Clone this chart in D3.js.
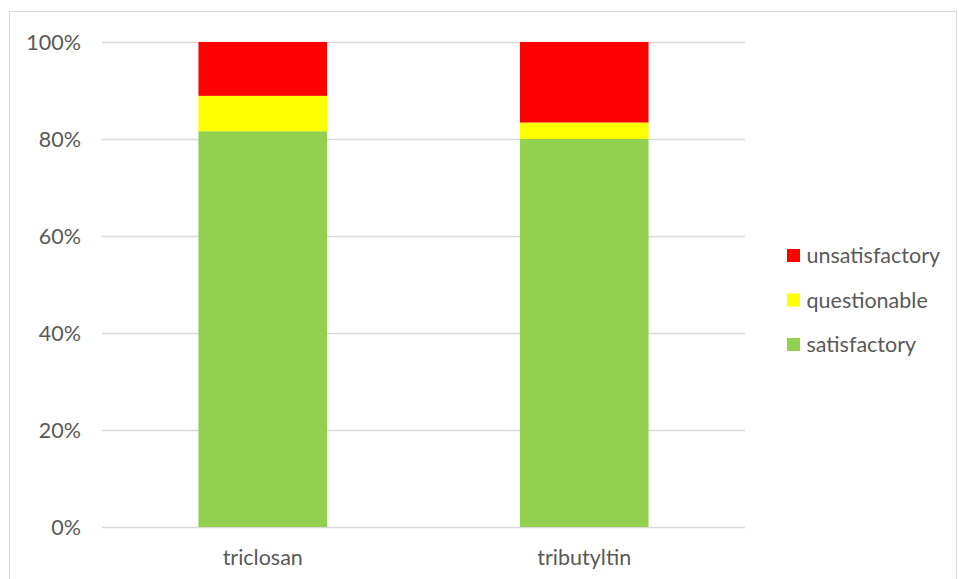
<!DOCTYPE html>
<html lang="en">
<head>
  <meta charset="UTF-8">
  <title>stacked percent</title>
  <style>
    body { margin: 0; background: #fff; }
    text { font-family: Lato, "Open Sans", sans-serif; fill: #595959; }
  </style>
</head>
<body>
  <div class="chart"></div>
  <script src="https://cdnjs.cloudflare.com/ajax/libs/d3/7.8.5/d3.min.js"></script>
  <script>
    const categories = ['triclosan', 'tributyltin'];
    const satisfactory = [81.6, 80.0];
    const questionable = [7.3, 3.4];
    const unsatisfactory = [11.1, 16.6];
    const seriesNames = ['satisfactory', 'questionable', 'unsatisfactory'];
    const seriesColors = ['#92d050', '#ffff00', '#ff0000'];
    const yTicks = [0, 20, 40, 60, 80, 100];

    const width = 959, height = 579;

    const rows = categories.map((c, i) => ({
      category: c,
      satisfactory: satisfactory[i],
      questionable: questionable[i],
      unsatisfactory: unsatisfactory[i]
    }));

    const stacked = d3.stack().keys(seriesNames)(rows);

    const x = d3.scaleBand()
      .domain(categories)
      .range([102, 745])
      .paddingInner(0.6)
      .paddingOuter(0.3);

    const y = d3.scaleLinear()
      .domain([0, 100])
      .range([527, 42]);

    const color = d3.scaleOrdinal().domain(seriesNames).range(seriesColors);

    const svg = d3.select('.chart')
      .append('svg')
      .attr('width', width)
      .attr('height', height);

    // outer frame
    svg.append('rect')
      .attr('x', 9.5).attr('y', 11.5)
      .attr('width', 947).attr('height', 580)
      .attr('fill', 'none')
      .attr('stroke', '#d9d9d9');

    // gridlines
    svg.append('g')
      .selectAll('line')
      .data(yTicks)
      .join('line')
      .attr('x1', 102).attr('x2', 745)
      .attr('y1', d => Math.round(y(d)) + 0.5)
      .attr('y2', d => Math.round(y(d)) + 0.5)
      .attr('stroke', '#d9d9d9')
      .attr('stroke-width', 1.5);

    // y labels
    svg.append('g')
      .selectAll('text')
      .data(yTicks)
      .join('text')
      .attr('x', 81)
      .attr('y', d => y(d))
      .attr('dy', '0.35em')
      .attr('text-anchor', 'end')
      .style('font-size', '21.5px')
      .text(d => d + '%');

    // bars
    svg.append('g')
      .selectAll('g')
      .data(stacked)
      .join('g')
      .attr('fill', d => color(d.key))
      .selectAll('rect')
      .data(d => d)
      .join('rect')
      .attr('x', d => x(d.data.category))
      .attr('width', x.bandwidth())
      .attr('y', d => y(d[1]))
      .attr('height', d => y(d[0]) - y(d[1]));

    // x labels
    svg.append('g')
      .selectAll('text')
      .data(categories)
      .join('text')
      .attr('x', d => x(d) + x.bandwidth() / 2)
      .attr('y', 557)
      .attr('dy', '0.35em')
      .attr('text-anchor', 'middle')
      .style('font-size', '21.5px')
      .text(d => d);

    // legend
    const legendItems = seriesNames.slice().reverse();
    const legend = svg.append('g')
      .selectAll('g')
      .data(legendItems)
      .join('g')
      .attr('transform', (d, i) => `translate(787, ${255.5 + i * 44.5})`);

    legend.append('rect')
      .attr('x', 0).attr('y', -6.5)
      .attr('width', 13).attr('height', 13)
      .attr('fill', d => color(d));

    legend.append('text')
      .attr('x', 19.5)
      .attr('dy', '0.35em')
      .style('font-size', '21.5px')
      .text(d => d);
  </script>
</body>
</html>
